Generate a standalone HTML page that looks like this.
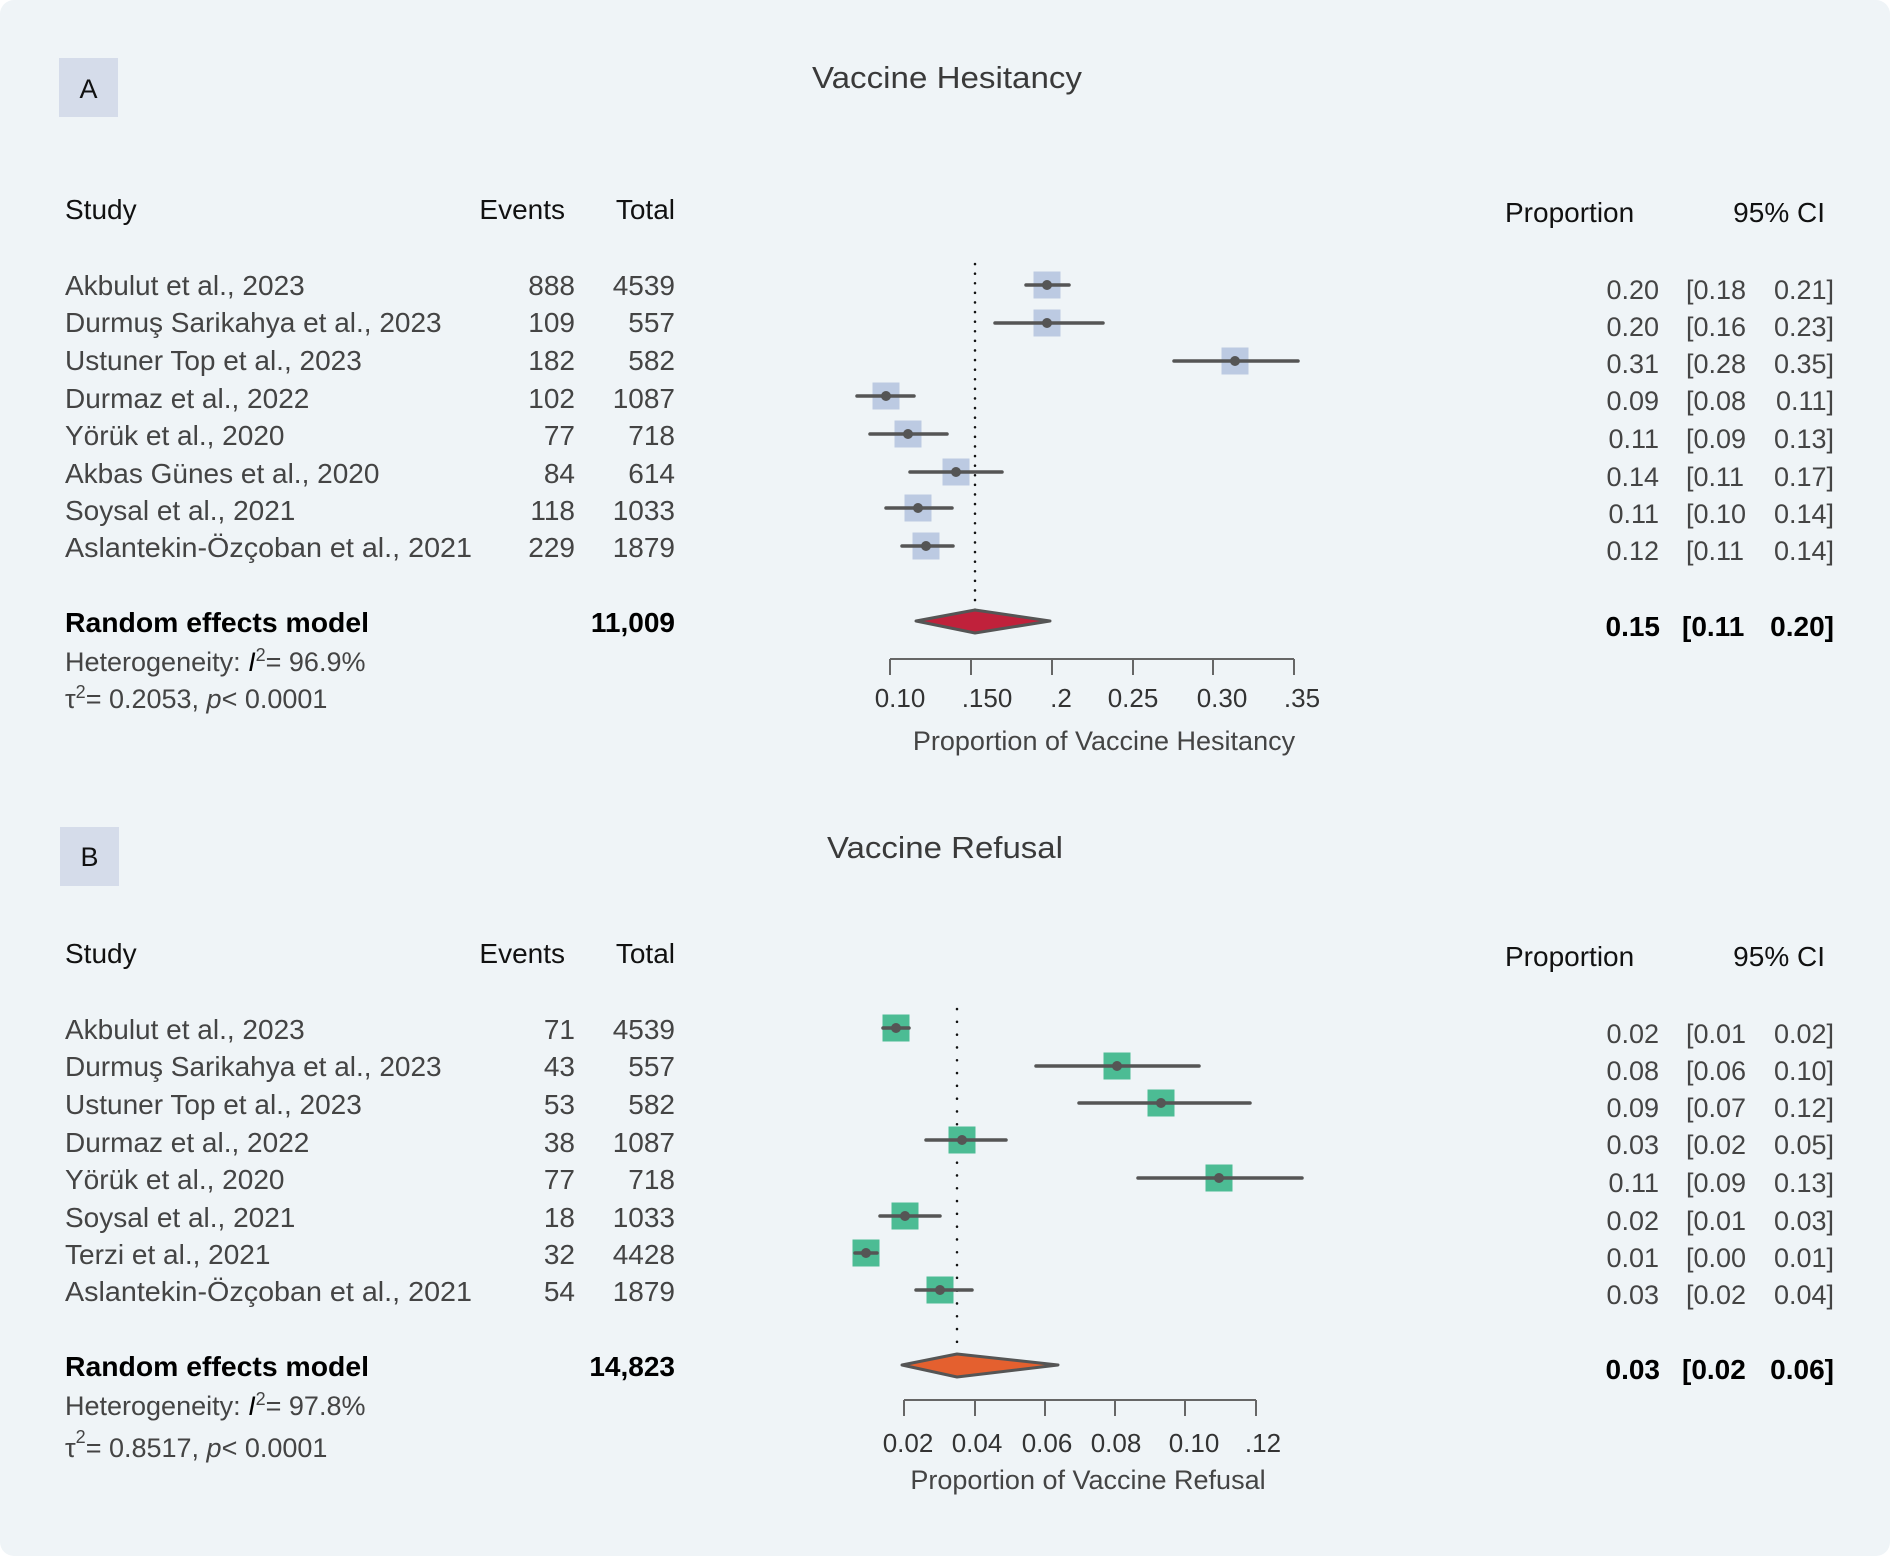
<!DOCTYPE html>
<html><head><meta charset="utf-8"><style>
html,body{margin:0;padding:0;background:#fff;}
svg{display:block;}
text{font-family:"Liberation Sans",sans-serif;}
</style></head><body>
<svg width="1891" height="1556" viewBox="0 0 1891 1556" xmlns="http://www.w3.org/2000/svg">
<rect x="0" y="0" width="1890" height="1556" rx="14" fill="#eff4f7"/>

<!-- PANEL A -->
<rect x="59" y="58" width="59" height="59" fill="#d5dcea"/>
<text x="88.5" y="98" font-size="27" text-anchor="middle" fill="#111">A</text>
<text x="947" y="88" font-size="31" text-anchor="middle" fill="#3a3a3a" textLength="270" lengthAdjust="spacingAndGlyphs">Vaccine Hesitancy</text>

<g font-size="28" fill="#111">
<text x="65" y="219">Study</text>
<text x="565" y="219" text-anchor="end">Events</text>
<text x="675" y="219" text-anchor="end">Total</text>
<text x="1505" y="222">Proportion</text>
<text x="1825" y="222" text-anchor="end">95% CI</text>
</g>
<g font-size="28" fill="#444">
<text x="65" y="295">Akbulut et al., 2023</text>
<text x="65" y="332">Durmuş Sarikahya et al., 2023</text>
<text x="65" y="370">Ustuner Top et al., 2023</text>
<text x="65" y="408">Durmaz et al., 2022</text>
<text x="65" y="445">Yörük et al., 2020</text>
<text x="65" y="483">Akbas Günes et al., 2020</text>
<text x="65" y="520">Soysal et al., 2021</text>
<text x="65" y="557" textLength="407" lengthAdjust="spacingAndGlyphs">Aslantekin-Özçoban et al., 2021</text>
</g>
<g font-size="28" fill="#444" text-anchor="end">
<text x="575" y="295">888</text><text x="675" y="295">4539</text>
<text x="575" y="332">109</text><text x="675" y="332">557</text>
<text x="575" y="370">182</text><text x="675" y="370">582</text>
<text x="575" y="408">102</text><text x="675" y="408">1087</text>
<text x="575" y="445">77</text><text x="675" y="445">718</text>
<text x="575" y="483">84</text><text x="675" y="483">614</text>
<text x="575" y="520">118</text><text x="675" y="520">1033</text>
<text x="575" y="557">229</text><text x="675" y="557">1879</text>
</g>
<text x="65" y="632" font-size="28" font-weight="bold" fill="#000" textLength="304" lengthAdjust="spacingAndGlyphs">Random effects model</text>
<text x="675" y="632" font-size="28" font-weight="bold" fill="#000" text-anchor="end">11,009</text>
<text x="65" y="671" font-size="27" fill="#444">Heterogeneity: <tspan font-style="italic" fill="#000">I</tspan><tspan dy="-10" font-size="18">2</tspan><tspan dy="10">= 96.9%</tspan></text>
<text x="65" y="708" font-size="27" fill="#444">τ<tspan dy="-10" font-size="18">2</tspan><tspan dy="10">= 0.2053,  </tspan><tspan font-style="italic">p</tspan>&lt; 0.0001</text>

<!-- right columns A -->
<g font-size="27" fill="#444">
<g text-anchor="end">
<text x="1659" y="299">0.20</text><text x="1659" y="336">0.20</text><text x="1659" y="373">0.31</text><text x="1659" y="410">0.09</text>
<text x="1659" y="448">0.11</text><text x="1659" y="486">0.14</text><text x="1659" y="523">0.11</text><text x="1659" y="560">0.12</text>
<text x="1834" y="299">0.21]</text><text x="1834" y="336">0.23]</text><text x="1834" y="373">0.35]</text><text x="1834" y="410">0.11]</text>
<text x="1834" y="448">0.13]</text><text x="1834" y="486">0.17]</text><text x="1834" y="523">0.14]</text><text x="1834" y="560">0.14]</text>
</g>
<text x="1686" y="299">[0.18</text><text x="1686" y="336">[0.16</text><text x="1686" y="373">[0.28</text><text x="1686" y="410">[0.08</text>
<text x="1686" y="448">[0.09</text><text x="1686" y="486">[0.11</text><text x="1686" y="523">[0.10</text><text x="1686" y="560">[0.11</text>
</g>
<g font-size="28" font-weight="bold" fill="#000">
<text x="1660" y="636" text-anchor="end">0.15</text>
<text x="1682" y="636">[0.11</text>
<text x="1834" y="636" text-anchor="end">0.20]</text>
</g>

<!-- plot A -->
<line x1="975" y1="264" x2="975" y2="610" stroke="#111" stroke-width="2.5" stroke-dasharray="0.1 9.5" stroke-linecap="round"/>
<g fill="#bccae2">
<rect x="1033.5" y="271.5" width="27" height="27"/><rect x="1033.5" y="309.5" width="27" height="27"/>
<rect x="1221.5" y="347.5" width="27" height="27"/><rect x="872.5" y="382.5" width="27" height="27"/>
<rect x="894.5" y="420.5" width="27" height="27"/><rect x="942.5" y="458.5" width="27" height="27"/>
<rect x="904.5" y="494.5" width="27" height="27"/><rect x="912.5" y="532.5" width="27" height="27"/>
</g>
<g stroke="#555" stroke-width="3.5" stroke-linecap="round">
<line x1="1026" y1="285" x2="1069" y2="285"/><line x1="995" y1="323" x2="1103" y2="323"/>
<line x1="1174" y1="361" x2="1298" y2="361"/><line x1="857" y1="396" x2="914" y2="396"/>
<line x1="870" y1="434" x2="947" y2="434"/><line x1="910" y1="472" x2="1002" y2="472"/>
<line x1="886" y1="508" x2="952" y2="508"/><line x1="902" y1="546" x2="953" y2="546"/>
</g>
<g fill="#555">
<circle cx="1047" cy="285" r="5"/><circle cx="1047" cy="323" r="5"/><circle cx="1235" cy="361" r="5"/><circle cx="886" cy="396" r="5"/>
<circle cx="908" cy="434" r="5"/><circle cx="956" cy="472" r="5"/><circle cx="918" cy="508" r="5"/><circle cx="926" cy="546" r="5"/>
</g>
<polygon points="916,621 975,610 1050,621 975,633" fill="#c0213b" stroke="#555" stroke-width="3" stroke-linejoin="round"/>
<g stroke="#666" stroke-width="2">
<line x1="890" y1="659" x2="1294" y2="659"/>
<line x1="890" y1="659" x2="890" y2="675"/><line x1="971" y1="659" x2="971" y2="675"/><line x1="1052" y1="659" x2="1052" y2="675"/>
<line x1="1133" y1="659" x2="1133" y2="675"/><line x1="1213" y1="659" x2="1213" y2="675"/><line x1="1294" y1="659" x2="1294" y2="675"/>
</g>
<g font-size="26" fill="#333" text-anchor="middle">
<text x="900" y="707">0.10</text><text x="987" y="707">.150</text><text x="1061" y="707">.2</text>
<text x="1133" y="707">0.25</text><text x="1222" y="707">0.30</text><text x="1302" y="707">.35</text>
</g>
<text x="1104" y="750" font-size="27" fill="#444" text-anchor="middle">Proportion of Vaccine Hesitancy</text>

<!-- PANEL B -->
<rect x="60" y="827" width="59" height="59" fill="#d5dcea"/>
<text x="89.5" y="866" font-size="27" text-anchor="middle" fill="#111">B</text>
<text x="945" y="858" font-size="31" text-anchor="middle" fill="#3a3a3a" textLength="236" lengthAdjust="spacingAndGlyphs">Vaccine Refusal</text>

<g font-size="28" fill="#111">
<text x="65" y="963">Study</text>
<text x="565" y="963" text-anchor="end">Events</text>
<text x="675" y="963" text-anchor="end">Total</text>
<text x="1505" y="966">Proportion</text>
<text x="1825" y="966" text-anchor="end">95% CI</text>
</g>
<g font-size="28" fill="#444">
<text x="65" y="1039">Akbulut et al., 2023</text>
<text x="65" y="1076">Durmuş Sarikahya et al., 2023</text>
<text x="65" y="1114">Ustuner Top et al., 2023</text>
<text x="65" y="1152">Durmaz et al., 2022</text>
<text x="65" y="1189">Yörük et al., 2020</text>
<text x="65" y="1227">Soysal et al., 2021</text>
<text x="65" y="1264">Terzi et al., 2021</text>
<text x="65" y="1301" textLength="407" lengthAdjust="spacingAndGlyphs">Aslantekin-Özçoban et al., 2021</text>
</g>
<g font-size="28" fill="#444" text-anchor="end">
<text x="575" y="1039">71</text><text x="675" y="1039">4539</text>
<text x="575" y="1076">43</text><text x="675" y="1076">557</text>
<text x="575" y="1114">53</text><text x="675" y="1114">582</text>
<text x="575" y="1152">38</text><text x="675" y="1152">1087</text>
<text x="575" y="1189">77</text><text x="675" y="1189">718</text>
<text x="575" y="1227">18</text><text x="675" y="1227">1033</text>
<text x="575" y="1264">32</text><text x="675" y="1264">4428</text>
<text x="575" y="1301">54</text><text x="675" y="1301">1879</text>
</g>
<text x="65" y="1376" font-size="28" font-weight="bold" fill="#000" textLength="304" lengthAdjust="spacingAndGlyphs">Random effects model</text>
<text x="675" y="1376" font-size="28" font-weight="bold" fill="#000" text-anchor="end">14,823</text>
<text x="65" y="1415" font-size="27" fill="#444">Heterogeneity: <tspan font-style="italic" fill="#000">I</tspan><tspan dy="-10" font-size="18">2</tspan><tspan dy="10">= 97.8%</tspan></text>
<text x="65" y="1457" font-size="27" fill="#444">τ<tspan dy="-14" font-size="18">2</tspan><tspan dy="14" dx="0">= 0.8517,  </tspan><tspan font-style="italic">p</tspan>&lt; 0.0001</text>

<g font-size="27" fill="#444">
<g text-anchor="end">
<text x="1659" y="1043">0.02</text><text x="1659" y="1080">0.08</text><text x="1659" y="1117">0.09</text><text x="1659" y="1154">0.03</text>
<text x="1659" y="1192">0.11</text><text x="1659" y="1230">0.02</text><text x="1659" y="1267">0.01</text><text x="1659" y="1304">0.03</text>
<text x="1834" y="1043">0.02]</text><text x="1834" y="1080">0.10]</text><text x="1834" y="1117">0.12]</text><text x="1834" y="1154">0.05]</text>
<text x="1834" y="1192">0.13]</text><text x="1834" y="1230">0.03]</text><text x="1834" y="1267">0.01]</text><text x="1834" y="1304">0.04]</text>
</g>
<text x="1686" y="1043">[0.01</text><text x="1686" y="1080">[0.06</text><text x="1686" y="1117">[0.07</text><text x="1686" y="1154">[0.02</text>
<text x="1686" y="1192">[0.09</text><text x="1686" y="1230">[0.01</text><text x="1686" y="1267">[0.00</text><text x="1686" y="1304">[0.02</text>
</g>
<g font-size="28" font-weight="bold" fill="#000">
<text x="1660" y="1379" text-anchor="end">0.03</text>
<text x="1682" y="1379">[0.02</text>
<text x="1834" y="1379" text-anchor="end">0.06]</text>
</g>

<!-- plot B -->
<line x1="957" y1="1009" x2="957" y2="1354" stroke="#111" stroke-width="2.5" stroke-dasharray="0.1 12.7" stroke-linecap="round"/>
<g fill="#4cbc94">
<rect x="882.5" y="1014.5" width="27" height="27"/><rect x="1103.5" y="1052.5" width="27" height="27"/>
<rect x="1147.5" y="1089.5" width="27" height="27"/><rect x="948.5" y="1126.5" width="27" height="27"/>
<rect x="1205.5" y="1164.5" width="27" height="27"/><rect x="891.5" y="1202.5" width="27" height="27"/>
<rect x="852.5" y="1239.5" width="27" height="27"/><rect x="926.5" y="1276.5" width="27" height="27"/>
</g>
<g stroke="#555" stroke-width="3.5" stroke-linecap="round">
<line x1="883" y1="1028" x2="909" y2="1028"/><line x1="1036" y1="1066" x2="1199" y2="1066"/>
<line x1="1079" y1="1103" x2="1250" y2="1103"/><line x1="926" y1="1140" x2="1006" y2="1140"/>
<line x1="1138" y1="1178" x2="1302" y2="1178"/><line x1="880" y1="1216" x2="940" y2="1216"/>
<line x1="855" y1="1253" x2="877" y2="1253"/><line x1="916" y1="1290" x2="972" y2="1290"/>
</g>
<g fill="#555">
<circle cx="896" cy="1028" r="5"/><circle cx="1117" cy="1066" r="5"/><circle cx="1161" cy="1103" r="5"/><circle cx="962" cy="1140" r="5"/>
<circle cx="1219" cy="1178" r="5"/><circle cx="905" cy="1216" r="5"/><circle cx="866" cy="1253" r="5"/><circle cx="940" cy="1290" r="5"/>
</g>
<polygon points="902,1365 957,1354 1058,1365 957,1377" fill="#e4602f" stroke="#555" stroke-width="3" stroke-linejoin="round"/>
<g stroke="#666" stroke-width="2">
<line x1="904" y1="1400" x2="1256" y2="1400"/>
<line x1="904" y1="1400" x2="904" y2="1416"/><line x1="975" y1="1400" x2="975" y2="1416"/><line x1="1045" y1="1400" x2="1045" y2="1416"/>
<line x1="1115" y1="1400" x2="1115" y2="1416"/><line x1="1185" y1="1400" x2="1185" y2="1416"/><line x1="1256" y1="1400" x2="1256" y2="1416"/>
</g>
<g font-size="26" fill="#333" text-anchor="middle">
<text x="908" y="1452">0.02</text><text x="977" y="1452">0.04</text><text x="1047" y="1452">0.06</text>
<text x="1116" y="1452">0.08</text><text x="1194" y="1452">0.10</text><text x="1263" y="1452">.12</text>
</g>
<text x="1088" y="1489" font-size="27" fill="#444" text-anchor="middle">Proportion of Vaccine Refusal</text>
</svg>
</body></html>
